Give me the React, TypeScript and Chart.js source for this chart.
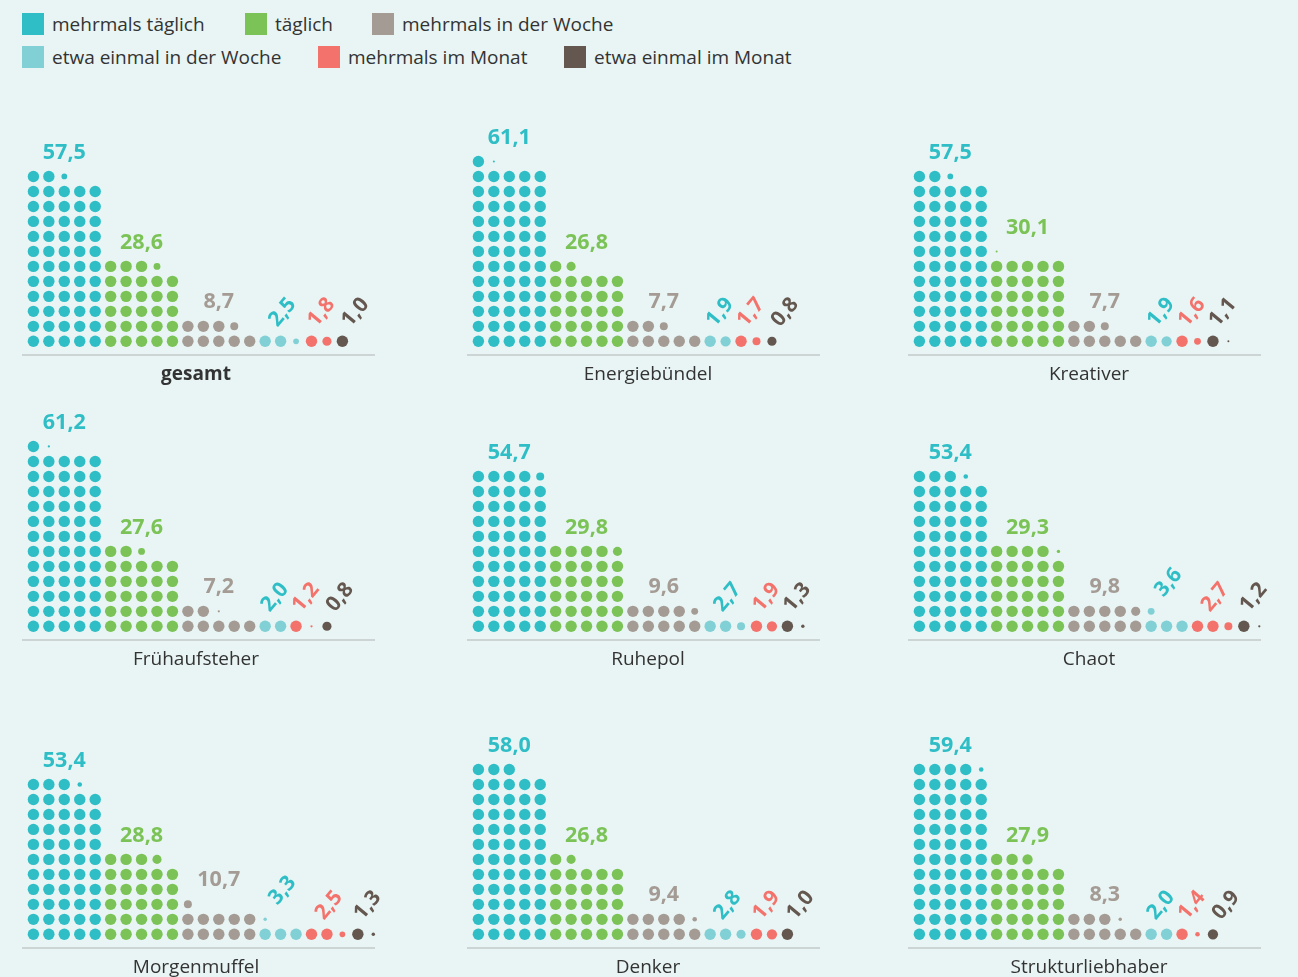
import React, { useEffect, useRef } from "react";
import { Chart, registerables } from "chart.js";

Chart.register(...registerables);

// ---------- data ----------
const CATEGORIES = [
  "mehrmals täglich",
  "täglich",
  "mehrmals in der Woche",
  "etwa einmal in der Woche",
  "mehrmals im Monat",
  "etwa einmal im Monat",
];
const COLORS = ["#2fbec6", "#7bc356", "#a59b95", "#80d0d5", "#f3736c", "#64574f"];
const LABEL_COLORS = ["#2fbec6", "#7bc356", "#a59b95", "#2fbec6", "#f3736c", "#64574f"];
const GROUP_CAPS = [5, 5, 5, 3, 3, 3];

const PANEL_NAMES = [
  "gesamt",
  "Energiebündel",
  "Kreativer",
  "Frühaufsteher",
  "Ruhepol",
  "Chaot",
  "Morgenmuffel",
  "Denker",
  "Strukturliebhaber",
];
const gesamt = [57.5, 28.6, 8.7, 2.5, 1.8, 1.0];
const energiebuendel = [61.1, 26.8, 7.7, 1.9, 1.7, 0.8];
const kreativer = [57.5, 30.1, 7.7, 1.9, 1.6, 1.1];
const fruehaufsteher = [61.2, 27.6, 7.2, 2.0, 1.2, 0.8];
const ruhepol = [54.7, 29.8, 9.6, 2.7, 1.9, 1.3];
const chaot = [53.4, 29.3, 9.8, 3.6, 2.7, 1.2];
const morgenmuffel = [53.4, 28.8, 10.7, 3.3, 2.5, 1.3];
const denker = [58.0, 26.8, 9.4, 2.8, 1.9, 1.0];
const strukturliebhaber = [59.4, 27.9, 8.3, 2.0, 1.4, 0.9];
const PANEL_VALUES = [
  gesamt,
  energiebuendel,
  kreativer,
  fruehaufsteher,
  ruhepol,
  chaot,
  morgenmuffel,
  denker,
  strukturliebhaber,
];

// ---------- geometry ----------
const FONT = "'Open Sans', 'Noto Sans', sans-serif";
const BG = "#e8f5f4";
const TEXT = "#333333";
const DOT_R = 5.7;
const COL_PX = 15.45;
const ROW_PX = 15;
const AXIS_LEN = 353;
const PAD_TOP = 20;
const PAD_RIGHT = 25;
const PAD_BOTTOM = 42;
const X_MIN = -11.4 / COL_PX;
const X_MAX = X_MIN + AXIS_LEN / COL_PX;
const Y_MIN = -13.7 / ROW_PX;
const Y_MAX = 13.5;
const CHART_H = (Y_MAX - Y_MIN) * ROW_PX;
const COL_LEFT = [22, 467, 908];
const ROW_AXIS = [355.5, 640, 948];
const TITLE_OFF = [174, 181, 181];

type Group = {
  start: number;
  width: number;
  topRow: number;
  value: number;
  pts: { x: number; y: number }[];
  radii: number[];
};

function layoutGroups(values: number[]): Group[] {
  let start = 0;
  return values.map((v, k) => {
    const full = Math.floor(v + 1e-9);
    const frac = Math.round((v - full) * 10) / 10;
    const count = full + (frac > 0 ? 1 : 0);
    const width = Math.min(GROUP_CAPS[k], count);
    const pts: { x: number; y: number }[] = [];
    const radii: number[] = [];
    for (let i = 0; i < count; i++) {
      pts.push({ x: start + (i % width), y: Math.floor(i / width) });
      radii.push(i < full ? DOT_R : Math.max(1, DOT_R * frac));
    }
    const g = { start, width, topRow: Math.floor((count - 1) / width), value: v, pts, radii };
    start += width;
    return g;
  });
}

const fmt = (v: number) => v.toFixed(1).replace(".", ",");

const panelPlugin = {
  id: "panelDeco",
  afterDatasetsDraw(chart: any, _args: any, opts: any) {
    const { ctx, chartArea, scales } = chart;
    const xs = scales.x;
    const ys = scales.y;
    ctx.save();
    // baseline
    ctx.strokeStyle = "#cdd4d4";
    ctx.lineWidth = 2;
    ctx.beginPath();
    ctx.moveTo(chartArea.left, chartArea.bottom);
    ctx.lineTo(chartArea.right, chartArea.bottom);
    ctx.stroke();
    // title
    ctx.fillStyle = TEXT;
    ctx.font = `${opts.bold ? "bold " : ""}19px ${FONT}`;
    ctx.textAlign = "center";
    ctx.textBaseline = "middle";
    ctx.fillText(opts.title, chartArea.left + opts.titleX, chartArea.bottom + 20);
    // value labels
    (opts.groups as Group[]).forEach((g, k) => {
      const cx = xs.getPixelForValue(g.start + (g.width - 1) / 2);
      const ty = ys.getPixelForValue(g.topRow);
      ctx.fillStyle = LABEL_COLORS[k];
      ctx.textAlign = "center";
      ctx.textBaseline = "middle";
      if (g.value >= 5) {
        ctx.font = `bold 21.5px ${FONT}`;
        ctx.fillText(fmt(g.value), cx, ty - 24);
      } else {
        ctx.font = `bold 21px ${FONT}`;
        const off = g.width === 1 ? 13 : 2;
        ctx.save();
        ctx.translate(cx + off, ty - 29);
        ctx.rotate((-50 * Math.PI) / 180);
        ctx.fillText(fmt(g.value), 0, 0);
        ctx.restore();
      }
    });
    ctx.restore();
  },
};

function Panel({ index }: { index: number }) {
  const ref = useRef<HTMLCanvasElement | null>(null);
  const col = index % 3;
  const row = Math.floor(index / 3);
  const left = COL_LEFT[col];
  const top = ROW_AXIS[row] - CHART_H - PAD_TOP;
  const width = AXIS_LEN + PAD_RIGHT;
  const height = PAD_TOP + CHART_H + PAD_BOTTOM;

  useEffect(() => {
    if (!ref.current) return;
    const groups = layoutGroups(PANEL_VALUES[index]);
    const chart = new Chart(ref.current, {
      type: "scatter",
      data: {
        datasets: groups.map((g, k) => ({
          label: CATEGORIES[k],
          data: g.pts,
          pointRadius: g.radii,
          pointBackgroundColor: COLORS[k],
          backgroundColor: COLORS[k],
          pointBorderWidth: 0,
          borderWidth: 0,
          clip: false as any,
        })),
      },
      options: {
        animation: false,
        responsive: false,
        events: [],
        layout: {
          autoPadding: false,
          padding: { left: 0, right: PAD_RIGHT, top: PAD_TOP, bottom: PAD_BOTTOM },
        },
        plugins: {
          legend: { display: false },
          tooltip: { enabled: false },
          panelDeco: {
            groups,
            title: PANEL_NAMES[index],
            bold: index === 0,
            titleX: TITLE_OFF[col],
          },
        } as any,
        scales: {
          x: { type: "linear", min: X_MIN, max: X_MAX, display: false },
          y: { type: "linear", min: Y_MIN, max: Y_MAX, display: false },
        },
      } as any,
      plugins: [panelPlugin as any],
    });
    return () => chart.destroy();
  }, [index]);

  return (
    <canvas
      ref={ref}
      width={width}
      height={height}
      style={{ position: "absolute", left, top, width, height }}
    />
  );
}

const LEGEND_POS = [
  [22, 13],
  [245, 13],
  [372, 13],
  [22, 46],
  [318, 46],
  [564, 46],
];

export default function App() {
  return (
    <div
      style={{
        position: "absolute",
        left: 0,
        top: 0,
        width: 1298,
        height: 977,
        overflow: "hidden",
        background: BG,
        fontFamily: FONT,
      }}
    >
      {CATEGORIES.map((c, k) => (
        <div
          key={c}
          style={{
            position: "absolute",
            left: LEGEND_POS[k][0],
            top: LEGEND_POS[k][1],
            height: 22,
            display: "flex",
            alignItems: "center",
            whiteSpace: "nowrap",
          }}
        >
          <span style={{ display: "inline-block", width: 22, height: 22, background: COLORS[k] }} />
          <span style={{ marginLeft: 8, fontSize: 19, color: TEXT, lineHeight: "22px" }}>{c}</span>
        </div>
      ))}
      {PANEL_NAMES.map((_, i) => (
        <Panel key={i} index={i} />
      ))}
    </div>
  );
}
